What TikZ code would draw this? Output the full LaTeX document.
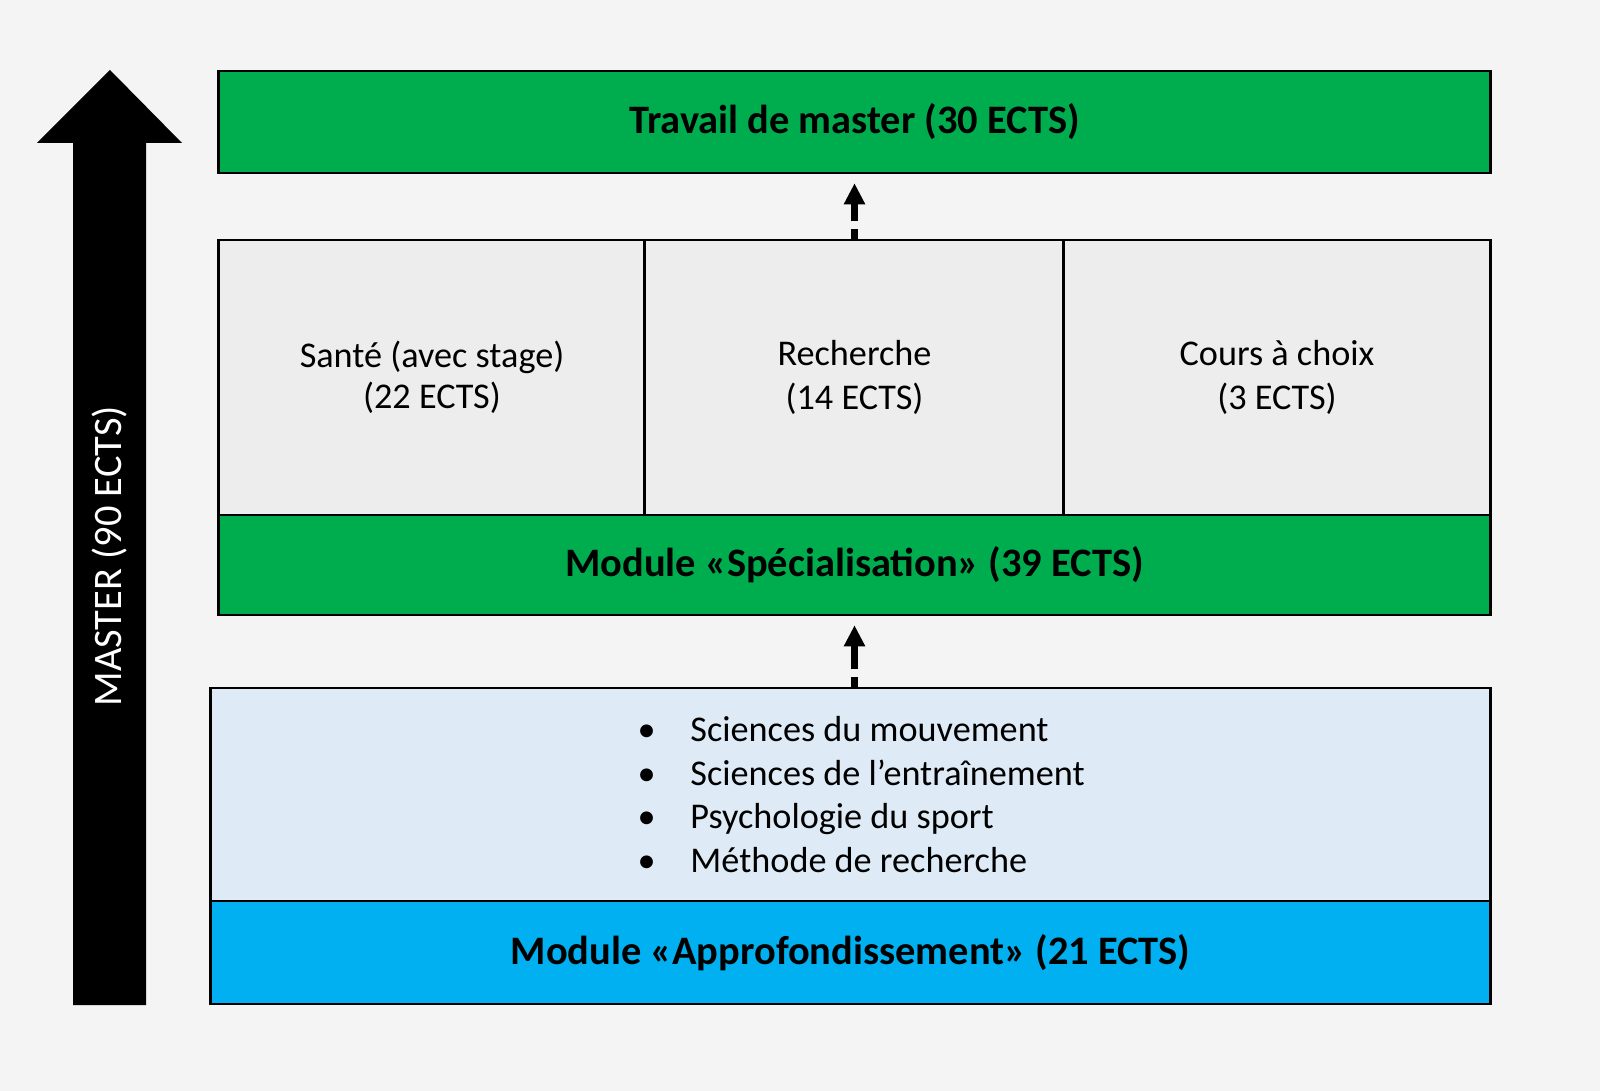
\documentclass[tikz,border=0pt]{standalone}
\usepackage{fontspec}
\setmainfont{Carlito}
\usetikzlibrary{arrows.meta,positioning}
\definecolor{bggrey}{HTML}{F4F4F4}
\definecolor{cellgrey}{HTML}{EDEDED}
\definecolor{modgreen}{HTML}{00AD4E}
\definecolor{modblue}{HTML}{00B0F0}
\definecolor{lightblue}{HTML}{DEEBF7}

\begin{document}
\begin{tikzpicture}[x=0.01cm,y=-0.01cm,
      box/.style={draw=black,line width=0.8pt,inner sep=0pt,align=center},
      module box/.style={box,fill=modgreen,minimum height=1.02cm,
        font=\fontsize{11.5}{13.8}\selectfont\bfseries},
      cell box/.style={box,fill=cellgrey,minimum height=2.75cm,
        font=\fontsize{10.3}{12.4}\selectfont},
      dasharrow/.style={-{Triangle[width=5.7pt,length=6pt]},line width=2pt,
        dash pattern=on 2.6pt off 2.3pt on 20pt,shorten >=2.5pt}]

      % background and margins
      \fill[bggrey] (0,0) rectangle (1600,1091);
      \useasboundingbox (0,0) rectangle (1600,1091);

      % big arrow on the left
      \fill[black] (73,1005) -- (73,143) -- (37,143) -- (110,70)
        -- (182,143) -- (146,143) -- (146,1005) -- cycle;
      \node[rotate=90,text=white,font=\fontsize{11.5}{13.8}\selectfont]
        (master) at (110,556) {MASTER (90 ECTS)};

      % boxes
      \node[module box,minimum width=12.71cm] (travail) at (854.5,122)
        {Travail de master (30 ECTS)};
      \node[cell box,minimum width=4.26cm] (sante) at (432,377.5)
        {\raisebox{-0.8pt}{Santé (avec stage)}\\(22 ECTS)};
      \node[cell box,minimum width=4.19cm] (recherche) at (854.5,377.5)
        {Recherche\\(14 ECTS)};
      \node[cell box,minimum width=4.26cm] (cours) at (1277,377.5)
        {Cours à choix\\(3 ECTS)};
      \node[module box,minimum width=12.71cm,minimum height=1cm] (spec) at (854.5,565)
        {Module «Spécialisation» (39 ECTS)};
      \node[box,fill=lightblue,minimum width=12.79cm,minimum height=2.13cm]
        (contenu) at (850.5,794.5) {};
      \node[module box,fill=modblue,minimum width=12.79cm,minimum height=1.03cm]
        (approf) at (850.5,952.5) {Module «Approfondissement» (21 ECTS)};

      % list of courses
      \node[anchor=west,inner sep=0pt,align=left,
        font=\fontsize{10.3}{12.4}\selectfont] (liste) at (637,794.5)
        {\makebox[15pt][l]{•}Sciences du mouvement\\
         \makebox[15pt][l]{•}Sciences de l’entraînement\\
         \makebox[15pt][l]{•}Psychologie du sport\\
         \makebox[15pt][l]{•}Méthode de recherche};

      % dashed arrows
      \draw[dasharrow] (recherche.north) -- (travail.south);
      \draw[dasharrow] (contenu.north -| spec.south) -- (spec.south);
    \end{tikzpicture}
\end{document}
